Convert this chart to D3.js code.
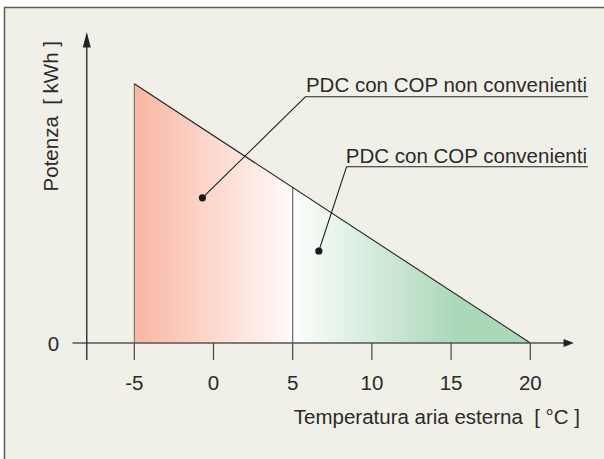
<!DOCTYPE html>
<html>
<head>
<meta charset="utf-8">
<script src="https://cdn.jsdelivr.net/npm/d3@7"></script>
<style>
  html, body { margin: 0; padding: 0; background: #ffffff; }
  svg text { font-family: "Liberation Sans", Arial, sans-serif; fill: #2a2a2a; white-space: pre; }
</style>
</head>
<body>
<div id="chart"></div>
<script>
// data
var lineTemps = [-5, 20];          // temperatura aria esterna [°C]
var linePower = [10, 0];           // potenza [kWh] (relative)
var splitTemp = 5;                 // limite COP convenienti
var xTicks = [-5, 0, 5, 10, 15, 20];
var yTicks = [0];
var labels = ["PDC con COP non convenienti", "PDC con COP convenienti"];
var labelDots = [[-0.7, 5.6], [6.65, 3.55]];     // dot position (data units)
var labelElbows = [[5.8, 9.5], [8.4, 6.8]];      // start of underline (data units)
var xTitle = "Temperatura aria esterna  [ °C ]";
var yTitle = "Potenza  [ kWh ]";

var width = 604,
    height = 459;

var svg = d3.select("#chart")
    .append("svg")
    .attr("width", width)
    .attr("height", height);

// gradients
var defs = svg.append("defs");
var red = defs.append("linearGradient").attr("id", "gRed");
red.append("stop").attr("offset", "0%").attr("stop-color", "#f9b6a3");
red.append("stop").attr("offset", "100%").attr("stop-color", "#fffbf9");
var green = defs.append("linearGradient").attr("id", "gGreen");
green.append("stop").attr("offset", "0%").attr("stop-color", "#fdfefd");
green.append("stop").attr("offset", "68%").attr("stop-color", "#acd8ba");
green.append("stop").attr("offset", "100%").attr("stop-color", "#acd8ba");

// frame
svg.append("rect")
    .attr("x", 4.5).attr("y", 7.5)
    .attr("width", 700).attr("height", 600)
    .attr("fill", "#f1f0e8")
    .attr("stroke", "#5a5a5a")
    .attr("stroke-width", 1.5);

var x = d3.scaleLinear().domain([-5, 20]).range([134.3, 530.3]);
var y = d3.scaleLinear().domain([0, 12]).range([343, 32]);

var powerAt = d3.scaleLinear().domain(lineTemps).range(linePower);

// areas
var area = d3.area()
    .x(function(d) { return x(d); })
    .y0(y(0))
    .y1(function(d) { return y(powerAt(d)); });

svg.append("path")
    .datum([lineTemps[0], splitTemp])
    .attr("d", area)
    .attr("fill", "url(#gRed)");

svg.append("path")
    .datum([splitTemp, lineTemps[1]])
    .attr("d", area)
    .attr("fill", "url(#gGreen)");

// separator at 5 °C
svg.append("line")
    .attr("x1", x(splitTemp)).attr("x2", x(splitTemp))
    .attr("y1", y(powerAt(splitTemp))).attr("y2", y(0))
    .attr("stroke", "#666").attr("stroke-width", 1.2);

// left edge of red area
svg.append("line")
    .attr("x1", x(lineTemps[0])).attr("x2", x(lineTemps[0]))
    .attr("y1", y(linePower[0])).attr("y2", y(0))
    .attr("stroke", "#666").attr("stroke-width", 1);

// power line
svg.append("path")
    .datum(lineTemps)
    .attr("d", d3.line().x(function(d) { return x(d); }).y(function(d) { return y(powerAt(d)); }))
    .attr("fill", "none")
    .attr("stroke", "#222")
    .attr("stroke-width", 1.1);

// axes
var yAxisX = x(-8);
svg.append("line")
    .attr("x1", x(-8.9)).attr("x2", x(22.2))
    .attr("y1", y(0)).attr("y2", y(0))
    .attr("stroke", "#555").attr("stroke-width", 1.3);
svg.append("path")
    .attr("d", "M" + x(22.1) + "," + (y(0) - 4) + "L" + x(22.75) + "," + y(0) + "L" + x(22.1) + "," + (y(0) + 4) + "Z")
    .attr("fill", "#222");

svg.append("line")
    .attr("x1", yAxisX).attr("x2", yAxisX)
    .attr("y1", y(11.5)).attr("y2", y(0) + 17)
    .attr("stroke", "#222").attr("stroke-width", 1.3);
svg.append("path")
    .attr("d", "M" + (yAxisX - 4) + "," + y(11.4) + "L" + yAxisX + "," + y(12) + "L" + (yAxisX + 4) + "," + y(11.4) + "Z")
    .attr("fill", "#222");

// x ticks
var xAxis = svg.append("g");
xAxis.selectAll("line")
    .data(xTicks)
    .enter()
    .append("line")
    .attr("x1", function(d) { return x(d); })
    .attr("x2", function(d) { return x(d); })
    .attr("y1", y(0)).attr("y2", y(0) + 17)
    .attr("stroke", "#444").attr("stroke-width", 1.2);
xAxis.selectAll("text")
    .data(xTicks)
    .enter()
    .append("text")
    .attr("x", function(d) { return x(d); })
    .attr("y", y(0) + 47)
    .style("text-anchor", "middle")
    .style("font-size", "20.5px")
    .text(function(d) { return d; });

svg.selectAll(".ytick")
    .data(yTicks)
    .enter()
    .append("text")
    .attr("class", "ytick")
    .attr("x", 53.5)
    .attr("y", function(d) { return y(d) + 7.5; })
    .style("text-anchor", "middle")
    .style("font-size", "20.5px")
    .text(function(d) { return d; });

// axis titles
svg.append("text")
    .attr("x", 580)
    .attr("y", 424)
    .style("text-anchor", "end")
    .style("font-size", "20.5px")
    .text(xTitle);

svg.append("text")
    .attr("transform", "translate(57.5,41) rotate(-90)")
    .style("text-anchor", "end")
    .style("font-size", "20.5px")
    .text(yTitle);

// annotations
var underlineEnd = 588;
var baselines = [92, 163];
labels.forEach(function(lab, i) {
    var dx = x(labelDots[i][0]), dy = y(labelDots[i][1]);
    var ex = x(labelElbows[i][0]), ey = y(labelElbows[i][1]);
    svg.append("polyline")
        .attr("points", [[dx, dy], [ex, ey], [underlineEnd, ey]].join(" "))
        .attr("fill", "none")
        .attr("stroke", "#222")
        .attr("stroke-width", 1.1);
    svg.append("circle")
        .attr("cx", dx).attr("cy", dy)
        .attr("r", 3.6)
        .attr("fill", "#1a1a1a");
    svg.append("text")
        .attr("x", underlineEnd - 1)
        .attr("y", baselines[i])
        .style("text-anchor", "end")
        .style("font-size", "20.5px")
        .text(lab);
});
</script>
</body>
</html>
